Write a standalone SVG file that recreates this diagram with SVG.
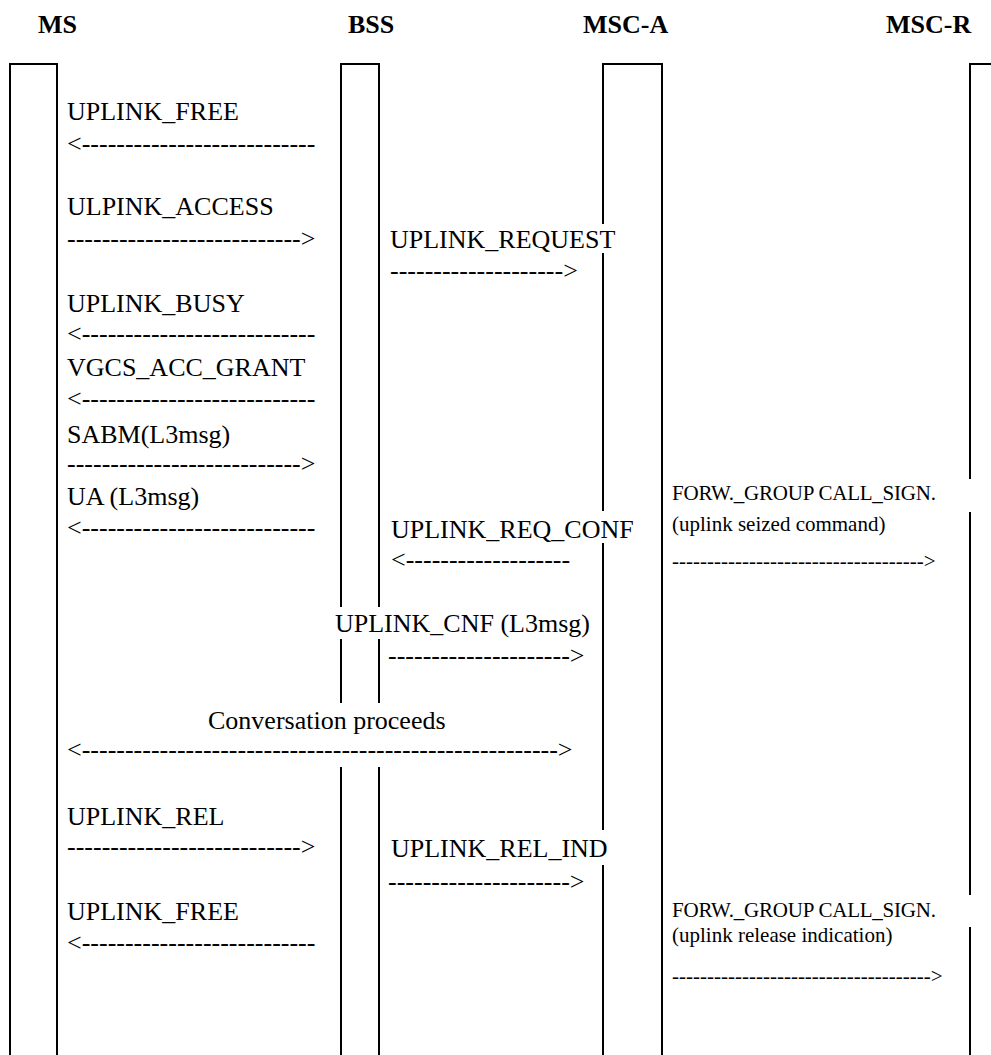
<svg xmlns="http://www.w3.org/2000/svg" width="991" height="1055" viewBox="0 0 991 1055">
<style>
.hdr{font-family:"Liberation Serif","Times New Roman",serif;font-weight:bold;font-size:26px;fill:#000}
.msg{font-family:"Liberation Serif","Times New Roman",serif;font-size:26px;fill:#000}
.sm{font-family:"Liberation Serif","Times New Roman",serif;font-size:21px;fill:#000}
.life{fill:none;stroke:#000;stroke-width:2}
</style>
<rect width="991" height="1055" fill="#fff"/>
<g id="MS">
<text class="hdr" x="38" y="33">MS</text>
<path class="life" d="M10,1055 V64 H57 V1055"/>
</g>
<g id="BSS">
<text class="hdr" x="348" y="33">BSS</text>
<path class="life" d="M341,1055 V767 M341,703 V639 M341,607 V64 H379 V607 M379,639 V703 M379,767 V1055"/>
</g>
<g id="MSC-A">
<text class="hdr" x="583" y="33">MSC-A</text>
<path class="life" d="M603,1055 V865 M603,830 V543 M603,511 V253 M603,224 V64 H662 V1055"/>
</g>
<g id="MSC-R">
<text class="hdr" x="886" y="33">MSC-R</text>
<path class="life" d="M970,1055 V927 M970,895 V512 M970,479 V64 H991"/>
</g>
<g id="connectors">
<g id="m1"><text class="msg" x="67" y="120">UPLINK_FREE</text><text class="msg" x="67" y="152">&lt;---------------------------</text></g>
<g id="m2"><text class="msg" x="67" y="215">ULPINK_ACCESS</text><text class="msg" x="67" y="247">---------------------------&gt;</text></g>
<g id="m3"><text class="msg" x="390" y="248">UPLINK_REQUEST</text><text class="msg" x="390" y="279">--------------------&gt;</text></g>
<g id="m4"><text class="msg" x="67" y="312">UPLINK_BUSY</text><text class="msg" x="67" y="342">&lt;---------------------------</text></g>
<g id="m5"><text class="msg" x="67" y="376">VGCS_ACC_GRANT</text><text class="msg" x="67" y="407">&lt;---------------------------</text></g>
<g id="m6"><text class="msg" x="67" y="443">SABM(L3msg)</text><text class="msg" x="67" y="472">---------------------------&gt;</text></g>
<g id="m7"><text class="msg" x="67" y="505">UA (L3msg)</text><text class="msg" x="67" y="536">&lt;---------------------------</text></g>
<g id="m8"><text class="msg" x="391" y="538">UPLINK_REQ_CONF</text><text class="msg" x="391" y="568">&lt;-------------------</text></g>
<g id="m9"><text class="sm" x="672" y="500" textLength="264" lengthAdjust="spacing">FORW._GROUP CALL_SIGN.</text><text class="sm" x="672" y="531">(uplink seized command)</text><text class="sm" x="672" y="568">------------------------------------&gt;</text></g>
<g id="m10"><text class="msg" x="335" y="632">UPLINK_CNF (L3msg)</text><text class="msg" x="388" y="664">---------------------&gt;</text></g>
<g id="m11"><text class="msg" x="208" y="729">Conversation proceeds</text><text class="msg" x="67" y="758">&lt;-------------------------------------------------------&gt;</text></g>
<g id="m12"><text class="msg" x="67" y="825">UPLINK_REL</text><text class="msg" x="67" y="855">---------------------------&gt;</text></g>
<g id="m13"><text class="msg" x="391" y="857">UPLINK_REL_IND</text><text class="msg" x="388" y="890">---------------------&gt;</text></g>
<g id="m14"><text class="msg" x="67" y="920">UPLINK_FREE</text><text class="msg" x="67" y="951">&lt;---------------------------</text></g>
<g id="m15"><text class="sm" x="672" y="917" textLength="264" lengthAdjust="spacing">FORW._GROUP CALL_SIGN.</text><text class="sm" x="672" y="942">(uplink release indication)</text><text class="sm" x="672" y="983">-------------------------------------&gt;</text></g>
</g>
</svg>
